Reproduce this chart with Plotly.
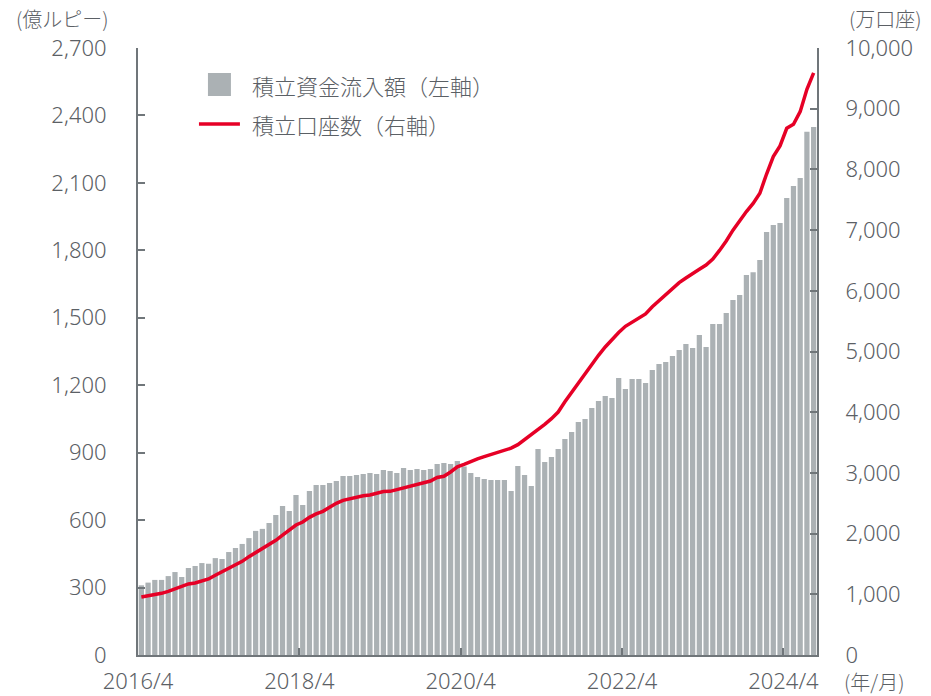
import plotly.graph_objects as go

# ---------------- data ----------------
START_YEAR, START_MONTH, N_MONTHS = 2016, 4, 101
month_labels = []
_y, _m = START_YEAR, START_MONTH
for _ in range(N_MONTHS):
    month_labels.append(f"{_y}/{_m}")
    _m += 1
    if _m > 12:
        _m = 1
        _y += 1

# 積立資金流入額 (億ルピー), left axis
inflow = [
    310, 322, 334, 334, 351, 369, 347, 387, 396, 409,
    406, 431, 427, 458, 476, 494, 520, 552, 561, 587,
    623, 663, 641, 712, 667, 729, 756, 756, 765, 774,
    796, 796, 801, 805, 810, 805, 823, 818, 810, 832,
    823, 827, 823, 827, 850, 854, 850, 863, 838, 810,
    792, 783, 778, 778, 778, 729, 841, 801, 752, 916,
    858, 881, 916, 961, 992, 1036, 1050, 1099, 1130, 1152,
    1143, 1232, 1183, 1228, 1228, 1210, 1268, 1294, 1303, 1330,
    1357, 1383, 1366, 1423, 1370, 1472, 1472, 1521, 1579, 1601,
    1690, 1703, 1757, 1882, 1913, 1922, 2033, 2086, 2122, 2327,
    2349,
]

# 積立口座数 (万口座), right axis
accounts = [
    955, 972, 994, 1016, 1049, 1093, 1137, 1170, 1186, 1214,
    1252, 1313, 1367, 1422, 1477, 1543, 1620, 1686, 1752, 1818,
    1890, 1975, 2055, 2142, 2191, 2268, 2325, 2367, 2433, 2499,
    2548, 2574, 2594, 2622, 2636, 2664, 2693, 2696, 2724, 2755,
    2778, 2812, 2845, 2866, 2925, 2944, 3015, 3100, 3140, 3193,
    3232, 3268, 3300, 3333, 3369, 3408, 3465, 3548, 3622, 3720,
    3800, 3893, 4003, 4171, 4328, 4490, 4643, 4789, 4937, 5074,
    5200, 5313, 5415, 5486, 5555, 5620, 5738, 5840, 5945, 6046,
    6134, 6211, 6275, 6354, 6425, 6522, 6665, 6820, 7000, 7160,
    7305, 7440, 7606, 7924, 8210, 8386, 8677, 8743, 8951, 9319,
    9590,
]

tick_months = ["2016/4", "2018/4", "2020/4", "2022/4", "2024/4"]
left_ticks = list(range(0, 2701, 300))
right_ticks = list(range(0, 10001, 1000))

bar_name = "積立資金流入額（左軸）"
line_name = "積立口座数（右軸）"

# ---------------- styling ----------------
W, H = 931, 696
# plot area in page pixels
PX_LEFT, PX_RIGHT, PX_TOP, PX_BOTTOM = 138, 817.5, 48, 655
L = PX_LEFT
R = W - PX_RIGHT
T = PX_TOP
B = H - PX_BOTTOM

FONT = "Noto Sans, Noto Sans CJK JP"
CJK = "Noto Sans CJK JP"
TXT = "#5b6065"
AXC = "#70767a"
BAR_C = "#abb1b4"
LINE_C = "#e60026"


def px_x(px):  # page px -> paper
    return (px - PX_LEFT) / (PX_RIGHT - PX_LEFT)


def px_y(py):
    return (PX_BOTTOM - py) / (PX_BOTTOM - PX_TOP)


x_index = list(range(len(month_labels)))
tickvals = [month_labels.index(t) - 0.5 for t in tick_months]

fig = go.Figure()
fig.add_trace(go.Bar(
    x=x_index, y=inflow, name=bar_name, marker_color=BAR_C,
    marker_line_width=0, showlegend=False,
))
fig.add_trace(go.Scatter(
    x=x_index, y=accounts, name=line_name, yaxis="y2", mode="lines",
    line=dict(color=LINE_C, width=3.5), showlegend=False,
))

axis_common = dict(
    showline=True, linecolor=AXC, linewidth=2,
    ticks="inside", tickcolor=AXC, tickwidth=2, ticklen=7,
    showgrid=False, zeroline=False, automargin=False,
    tickfont=dict(family=FONT, size=22, color=TXT, weight=300),
)

fig.update_layout(
    width=W, height=H,
    margin=dict(l=L, r=R, t=T, b=B, pad=0, autoexpand=False),
    paper_bgcolor="white", plot_bgcolor="white",
    font=dict(family=FONT, color=TXT),
    bargap=0.22,
    showlegend=False,
    xaxis=dict(
        range=[-0.5, len(month_labels) - 0.5],
        tickvals=tickvals, ticktext=tick_months,
        ticklabelstandoff=6,
        **axis_common,
    ),
    yaxis=dict(
        range=[0, 2700], tickvals=left_ticks, tickformat=",d",
        ticklabelstandoff=25,
        **axis_common,
    ),
    yaxis2=dict(
        range=[0, 10000], tickvals=right_ticks, tickformat=",d",
        overlaying="y", side="right",
        ticklabelstandoff=22,
        **axis_common,
    ),
)

unit_font = dict(family=CJK, size=20, color=TXT, weight=300)
fig.add_annotation(text="(億ルピー)", xref="paper", yref="paper",
                   x=px_x(111), y=px_y(19), xanchor="right", yanchor="middle",
                   showarrow=False, font=unit_font)
fig.add_annotation(text="(万口座)", xref="paper", yref="paper",
                   x=px_x(848), y=px_y(19), xanchor="left", yanchor="middle",
                   showarrow=False, font=unit_font)
fig.add_annotation(text="(年/月)", xref="paper", yref="paper",
                   x=px_x(843), y=px_y(682), xanchor="left", yanchor="middle",
                   showarrow=False, font=unit_font)

# custom legend
leg_font = dict(family=CJK, size=22, color=TXT, weight=300)
fig.add_shape(type="rect", xref="paper", yref="paper",
              x0=px_x(208), x1=px_x(231), y0=px_y(96), y1=px_y(73),
              fillcolor=BAR_C, line_width=0)
fig.add_annotation(text=bar_name, xref="paper", yref="paper",
                   x=px_x(250), y=px_y(85), xanchor="left", yanchor="middle",
                   showarrow=False, font=leg_font)
fig.add_shape(type="line", xref="paper", yref="paper",
              x0=px_x(199), x1=px_x(240), y0=px_y(124), y1=px_y(124),
              line=dict(color=LINE_C, width=3.5))
fig.add_annotation(text=line_name, xref="paper", yref="paper",
                   x=px_x(250), y=px_y(124), xanchor="left", yanchor="middle",
                   showarrow=False, font=leg_font)

# remove the default 8px body margin so the figure sits at the page origin
fig.write_html("out.html", config={"displayModeBar": False},
               post_script="document.body.style.margin='0px';")
